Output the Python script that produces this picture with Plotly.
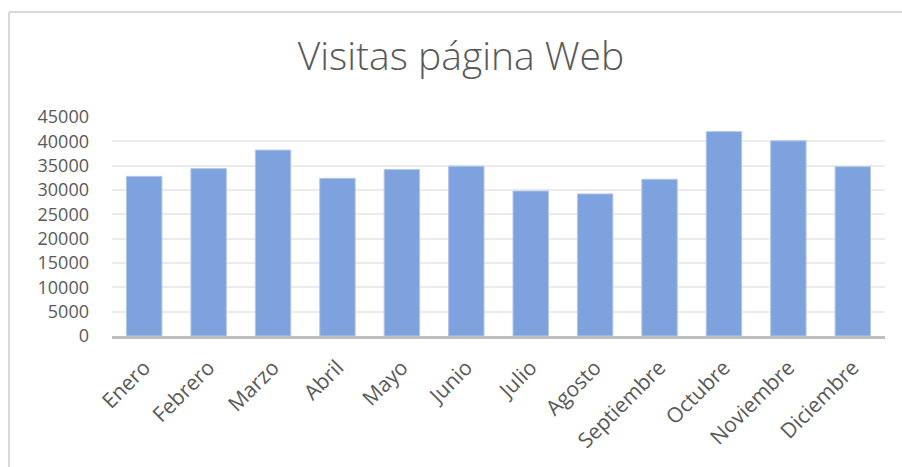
import plotly.graph_objects as go

meses = ["Enero", "Febrero", "Marzo", "Abril", "Mayo", "Junio", "Julio",
         "Agosto", "Septiembre", "Octubre", "Noviembre", "Diciembre"]
visitas = [32800, 34400, 38200, 32400, 34200, 34900, 29800,
           29200, 32200, 42000, 40100, 34800]
y_ticks = [0, 5000, 10000, 15000, 20000, 25000, 30000, 35000, 40000, 45000]
y_labels = [str(v) for v in y_ticks]

W, H = 902, 467
L, R, T, B = 112, 17, 117, 131
pw = W - L - R
ph = H - T - B

fig = go.Figure(go.Bar(
    x=meses, y=visitas,
    marker=dict(color="#7ea2dd", line=dict(color="#b3c7ec", width=1)),
))

gray = "#595959"
fig.update_layout(
    width=W, height=H,
    margin=dict(l=L, r=R, t=T, b=B),
    paper_bgcolor="white", plot_bgcolor="white",
    bargap=0.45,
    showlegend=False,
    title=dict(text="Visitas página Web", x=461 / W, xref="container", xanchor="center",
               y=1 - 56 / H, yref="container", yanchor="middle",
               font=dict(family="Open Sans", size=39, color=gray, weight=300)),
    font=dict(family="Open Sans", color=gray),
    xaxis=dict(tickangle=-45, tickfont=dict(size=21, color=gray),
               showline=True, linecolor="#bfbfbf", linewidth=3,
               showgrid=False, ticks="", ticklabelstandoff=8),
    yaxis=dict(range=[0, 45000], tickvals=y_ticks, ticktext=y_labels,
               tickfont=dict(size=18, color=gray),
               showgrid=True, gridcolor="#ececec", gridwidth=2,
               zeroline=False, showline=False, ticks="", ticklabelstandoff=22),
    shapes=[
        dict(type="line", xref="paper", yref="paper",
             x0=(9 - L) / pw, x1=(W + 5 - L) / pw,
             y0=(H - 12 - B) / ph, y1=(H - 12 - B) / ph,
             line=dict(color="#d9d9d9", width=2)),
        dict(type="line", xref="paper", yref="paper",
             x0=(9 - L) / pw, x1=(9 - L) / pw,
             y0=(H - 12 - B) / ph, y1=(-5 - B) / ph,
             line=dict(color="#d9d9d9", width=2)),
    ],
)

fig.write_html("out.html")
